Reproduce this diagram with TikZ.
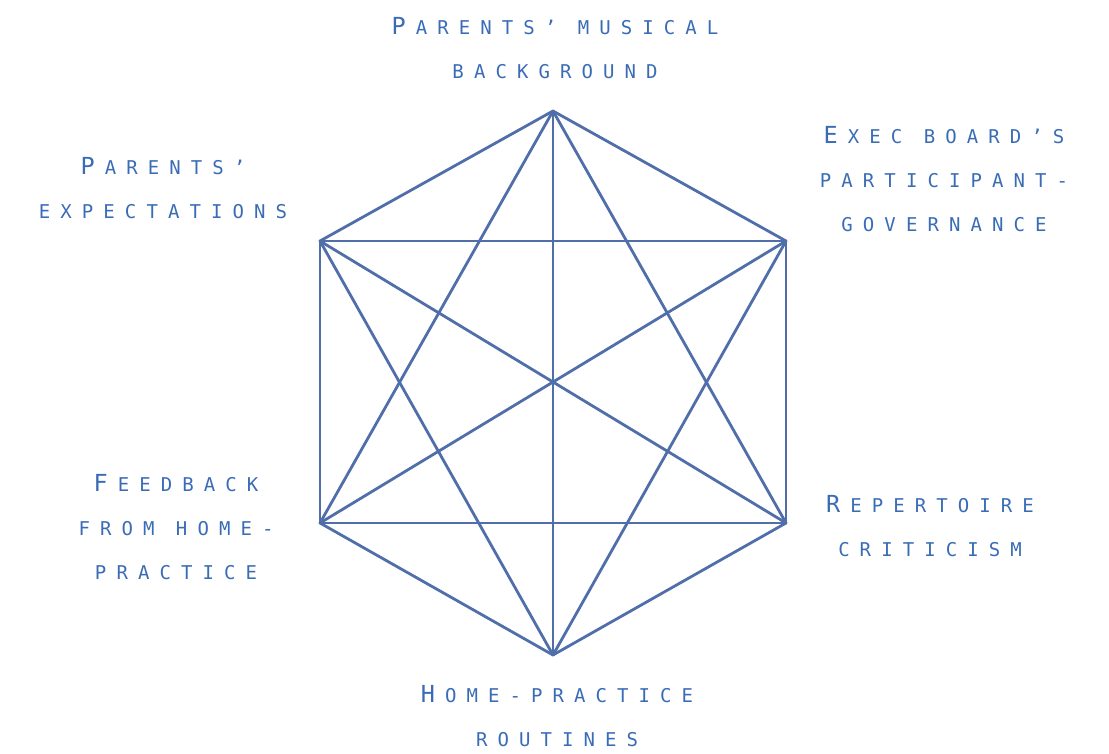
\documentclass[tikz,border=0pt]{standalone}
\usepackage{fontspec}
\newfontfamily\labelfont[LetterSpace=53]{DejaVu Sans Mono}
\definecolor{edgeblue}{RGB}{80,110,170}
\definecolor{textblue}{RGB}{58,108,182}
\newcommand\capl[1]{{\fontsize{23.5}{44}\selectfont #1}\kern10pt}

\begin{document}
\begin{tikzpicture}
  [x=1pt,y=-1pt,
   lbl/.style={text=textblue,align=center,inner sep=0pt,
     font=\labelfont\fontsize{19}{44}\selectfont},
   edge/.style={draw=edgeblue,line width=2.8pt,line cap=round}]
  \useasboundingbox (0,0) rectangle (1109,754);

  \coordinate (v1) at (553,111);
  \coordinate (v2) at (786,241);
  \coordinate (v3) at (786,523);
  \coordinate (v4) at (553,655);
  \coordinate (v5) at (320,523);
  \coordinate (v6) at (320,241);

  \foreach \from/\to in {v1/v2, v1/v3, v1/v4, v1/v5, v1/v6, v2/v3, v2/v4, v2/v5,
    v2/v6, v3/v4, v3/v5, v3/v6, v4/v5, v4/v6, v5/v6}
    \draw[edge] (\from) -- (\to);

  \node[lbl] (musical) at (555,48) {\capl{P}ARENTS’ MUSICAL\\BACKGROUND};
  \node[lbl] (expect) at (163,188) {\capl{P}ARENTS’\\EXPECTATIONS};
  \node[lbl] (board) at (944,179) {\capl{E}XEC BOARD’S\\PARTICIPANT-\\GOVERNANCE};
  \node[lbl] (feedback) at (176,527) {\capl{F}EEDBACK\\FROM HOME-\\PRACTICE};
  \node[lbl] (critic) at (930,526) {\capl{R}EPERTOIRE\\CRITICISM};
  \node[lbl] (routine) at (557,716) {\capl{H}OME-PRACTICE\\ROUTINES};

\end{tikzpicture}
\end{document}
